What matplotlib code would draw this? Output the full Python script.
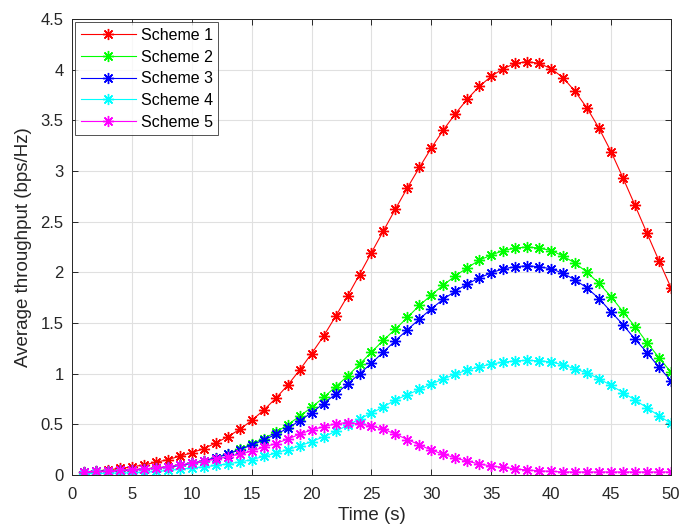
import matplotlib
matplotlib.use('Agg')
import matplotlib.pyplot as plt
import numpy as np

# Data
time = np.arange(1, 51)

scheme1 = [0.03, 0.04, 0.05, 0.065, 0.08, 0.10, 0.125, 0.152, 0.185, 0.22,
           0.26, 0.315, 0.378, 0.45, 0.538, 0.64, 0.755, 0.885, 1.035, 1.198,
           1.37, 1.565, 1.765, 1.978, 2.195, 2.41, 2.625, 2.835, 3.035, 3.228,
           3.405, 3.565, 3.71, 3.835, 3.935, 4.01, 4.062, 4.08, 4.062, 4.01,
           3.92, 3.785, 3.62, 3.42, 3.19, 2.93, 2.66, 2.385, 2.113, 1.848]

scheme2 = [0.03, 0.035, 0.04, 0.045, 0.05, 0.06, 0.07, 0.08, 0.095, 0.115,
           0.14, 0.17, 0.21, 0.255, 0.305, 0.36, 0.42, 0.495, 0.58, 0.667,
           0.765, 0.87, 0.976, 1.093, 1.212, 1.331, 1.44, 1.555, 1.673, 1.776,
           1.875, 1.965, 2.045, 2.12, 2.17, 2.215, 2.24, 2.25, 2.24, 2.215,
           2.16, 2.09, 2.0, 1.89, 1.76, 1.61, 1.465, 1.307, 1.158, 1.014]

scheme3 = [0.03, 0.035, 0.04, 0.045, 0.05, 0.058, 0.068, 0.08, 0.095, 0.115,
           0.14, 0.17, 0.205, 0.25, 0.295, 0.345, 0.40, 0.46, 0.535, 0.614,
           0.705, 0.797, 0.897, 0.998, 1.103, 1.215, 1.327, 1.433, 1.539, 1.641,
           1.735, 1.815, 1.885, 1.945, 1.995, 2.035, 2.055, 2.065, 2.055, 2.035,
           1.99, 1.925, 1.845, 1.74, 1.61, 1.482, 1.34, 1.208, 1.063, 0.931]

scheme4 = [0.013, 0.015, 0.017, 0.02, 0.023, 0.028, 0.035, 0.045, 0.058, 0.07,
           0.08, 0.095, 0.11, 0.128, 0.152, 0.183, 0.216, 0.25, 0.286, 0.33,
           0.376, 0.43, 0.49, 0.553, 0.61, 0.673, 0.74, 0.792, 0.845, 0.898,
           0.948, 0.994, 1.037, 1.066, 1.096, 1.113, 1.128, 1.13, 1.128, 1.116,
           1.086, 1.047, 1.007, 0.948, 0.885, 0.812, 0.74, 0.663, 0.584, 0.509]

scheme5 = [0.03, 0.035, 0.04, 0.046, 0.053, 0.06, 0.07, 0.083, 0.099, 0.118,
           0.137, 0.157, 0.182, 0.205, 0.236, 0.275, 0.31, 0.353, 0.403, 0.445,
           0.477, 0.505, 0.518, 0.505, 0.485, 0.452, 0.403, 0.35, 0.297, 0.245,
           0.205, 0.168, 0.136, 0.109, 0.089, 0.074, 0.06, 0.05, 0.042, 0.036,
           0.03, 0.03, 0.03, 0.03, 0.03, 0.03, 0.03, 0.03, 0.03, 0.03]

labels = ['Scheme 1', 'Scheme 2', 'Scheme 3', 'Scheme 4', 'Scheme 5']
colors = ['#ff0000', '#00ff00', '#0000ff', '#00ffff', '#ff00ff']
dark = '#262626'

plt.rcParams['font.family'] = ['Liberation Sans', 'DejaVu Sans']

fig = plt.figure(figsize=(6.81, 5.28), dpi=100)
ax = fig.add_axes([0.1057, 0.1004, 0.8796, 0.8636])

asterisk = (8, 2, 0)
for ys, lab, c in zip([scheme1, scheme2, scheme3, scheme4, scheme5], labels, colors):
    ax.plot(time, ys, color=c, lw=0.8, marker=asterisk, markersize=8,
            markeredgewidth=1.0, label=lab)

ax.set_xlim(0, 50)
ax.set_ylim(0, 4.5)
ax.set_xticks(np.arange(0, 51, 5))
ax.set_yticks(np.arange(0, 4.51, 0.5))
ax.set_yticklabels(['0', '0.5', '1', '1.5', '2', '2.5', '3', '3.5', '4', '4.5'])

ax.grid(True, color='#e0e0e0', lw=0.8)
ax.set_axisbelow(True)
ax.tick_params(direction='in', top=True, right=True, length=4, width=0.7,
               colors=dark, labelsize=12)
ax.tick_params(axis='x', pad=9)
ax.tick_params(axis='y', pad=6)
for s in ax.spines.values():
    s.set_color(dark)
    s.set_linewidth(0.7)

ax.set_xlabel('Time (s)', color=dark, fontsize=13.5, labelpad=3)
ax.set_ylabel('Average throughput (bps/Hz)', color=dark, fontsize=13.5, labelpad=6)

leg = ax.legend(loc='upper left', fancybox=False, fontsize=11.5, handlelength=3.45,
                borderaxespad=0.2, labelspacing=0.42, borderpad=0.35,
                handletextpad=0.3)
leg.get_frame().set_edgecolor(dark)
leg.get_frame().set_linewidth(0.7)

fig.savefig('out.png', dpi=100)
